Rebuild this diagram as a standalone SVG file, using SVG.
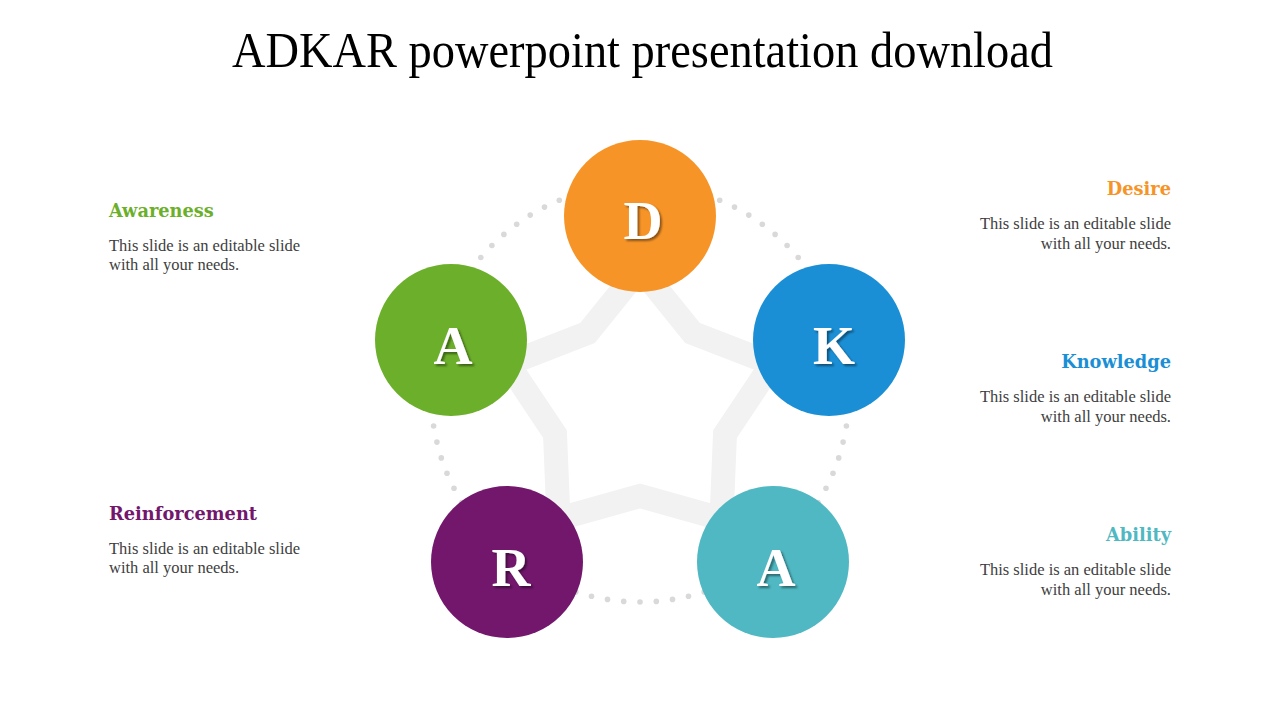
<svg xmlns="http://www.w3.org/2000/svg" width="1280" height="720" viewBox="0 0 1280 720">
<defs>
<filter id="ts" x="-30%" y="-30%" width="160%" height="160%">
<feDropShadow dx="2" dy="2" stdDeviation="1" flood-color="#000" flood-opacity="0.45"/>
</filter>
</defs>
<style>
.title{font-family:"Liberation Serif","Times New Roman",serif;font-size:50px;fill:#000}
.letter{font-family:"Liberation Serif","Times New Roman",serif;font-weight:bold;font-size:54px;fill:#fff;text-anchor:middle}
.head{font-family:"DejaVu Serif","Liberation Serif",serif;font-weight:bold;font-size:17.8px}
.body{font-family:"Liberation Serif","Times New Roman",serif;font-size:16.5px;fill:#404040}
.dot{fill:#d9d9d9}
.r{text-anchor:end}
</style>
<rect width="1280" height="720" fill="#fff"/>
<text class="title" x="232" y="67" textLength="821" lengthAdjust="spacingAndGlyphs">ADKAR powerpoint presentation download</text>

<g id="connectors">
<polygon points="640,268 692.5,333 771.9,363.8 725,434 721.5,518.9 640,496 558.5,518.9 555,434 508.1,363.8 587.5,333" fill="none" stroke="#f2f2f2" stroke-width="24" stroke-linejoin="miter" stroke-miterlimit="10"/>
<g class="dot">
<circle cx="480.8" cy="257.5" r="2.8"/><circle cx="491.9" cy="245.5" r="2.8"/><circle cx="503.9" cy="234.4" r="2.8"/><circle cx="516.7" cy="224.3" r="2.8"/><circle cx="530.2" cy="215.1" r="2.8"/><circle cx="544.5" cy="207.1" r="2.8"/><circle cx="559.3" cy="200.2" r="2.8"/>
<circle cx="798.2" cy="257.5" r="2.8"/><circle cx="787.1" cy="245.5" r="2.8"/><circle cx="775.1" cy="234.4" r="2.8"/><circle cx="762.3" cy="224.3" r="2.8"/><circle cx="748.8" cy="215.1" r="2.8"/><circle cx="734.5" cy="207.1" r="2.8"/><circle cx="719.7" cy="200.2" r="2.8"/>
<circle cx="433.6" cy="426" r="2.8"/><circle cx="436.9" cy="442.1" r="2.8"/><circle cx="441.3" cy="457.9" r="2.8"/><circle cx="447" cy="473.3" r="2.8"/><circle cx="454" cy="488.2" r="2.8"/><circle cx="462" cy="502.5" r="2.8"/>
<circle cx="846.4" cy="426" r="2.8"/><circle cx="843.1" cy="442.1" r="2.8"/><circle cx="838.7" cy="457.9" r="2.8"/><circle cx="833" cy="473.3" r="2.8"/><circle cx="826" cy="488.2" r="2.8"/><circle cx="818" cy="502.5" r="2.8"/>
<circle cx="575.8" cy="591.9" r="2.8"/><circle cx="591.5" cy="596.3" r="2.8"/><circle cx="607.5" cy="599.4" r="2.8"/><circle cx="623.7" cy="601.4" r="2.8"/><circle cx="640" cy="602" r="2.8"/><circle cx="656.3" cy="601.4" r="2.8"/><circle cx="672.5" cy="599.4" r="2.8"/><circle cx="688.5" cy="596.3" r="2.8"/><circle cx="704.2" cy="591.9" r="2.8"/>
</g>
</g>

<g id="node-d">
<circle cx="640" cy="216" r="76" fill="#f79427"/>
<text class="letter" x="643" y="239" filter="url(#ts)">D</text>
</g>
<g id="node-a1">
<circle cx="451" cy="340" r="76" fill="#6caf2a"/>
<text class="letter" x="453" y="364" filter="url(#ts)">A</text>
</g>
<g id="node-k">
<circle cx="829" cy="340" r="76" fill="#1b8fd5"/>
<text class="letter" x="834" y="364" filter="url(#ts)">K</text>
</g>
<g id="node-r">
<circle cx="507" cy="562" r="76" fill="#72176c"/>
<text class="letter" x="511" y="586" filter="url(#ts)">R</text>
</g>
<g id="node-a2">
<circle cx="773" cy="562" r="76" fill="#4fb8c2"/>
<text class="letter" x="776" y="586" filter="url(#ts)">A</text>
</g>

<g id="label-awareness">
<text class="head" x="109" y="217" fill="#6caf2a">Awareness</text>
<text class="body" x="109" y="250.5">This slide is an editable slide</text>
<text class="body" x="109" y="270">with all your needs.</text>
</g>
<g id="label-reinforcement">
<text class="head" x="109" y="520" fill="#72176c">Reinforcement</text>
<text class="body" x="109" y="553.5">This slide is an editable slide</text>
<text class="body" x="109" y="573">with all your needs.</text>
</g>
<g id="label-desire">
<text class="head r" x="1171" y="195" fill="#f79427">Desire</text>
<text class="body r" x="1171" y="229">This slide is an editable slide</text>
<text class="body r" x="1171" y="248.5">with all your needs.</text>
</g>
<g id="label-knowledge">
<text class="head r" x="1171" y="368" fill="#1b8fd5">Knowledge</text>
<text class="body r" x="1171" y="402">This slide is an editable slide</text>
<text class="body r" x="1171" y="421.5">with all your needs.</text>
</g>
<g id="label-ability">
<text class="head r" x="1171" y="541" fill="#4fb8c2">Ability</text>
<text class="body r" x="1171" y="575">This slide is an editable slide</text>
<text class="body r" x="1171" y="594.5">with all your needs.</text>
</g>
</svg>
